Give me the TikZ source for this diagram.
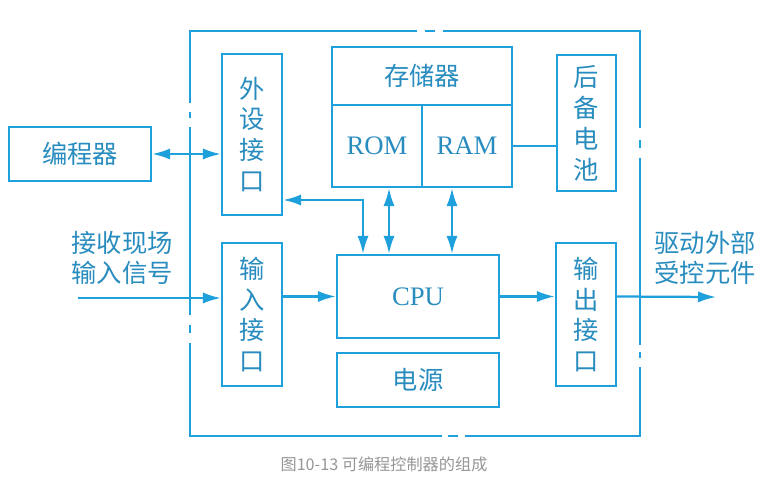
\documentclass[tikz,border=0pt]{standalone}
\usepackage{fontspec}
\setmainfont{Liberation Serif}
\newfontfamily\cjk{Noto Sans CJK SC}
\usepackage{tikz}
\usetikzlibrary{arrows.meta}

\definecolor{plcblue}{RGB}{30,160,220}
\definecolor{plctext}{RGB}{40,140,190}
\definecolor{capgray}{RGB}{150,150,150}

\begin{document}
\begin{tikzpicture}[x=0.025cm,y=-0.025cm,
    >={Latex[length=4.5mm,width=2.8mm]},
    wire/.style={draw=plcblue,line width=1.6pt}]

      \useasboundingbox (0,0) rectangle (768,479);

      % outer frame, with its breaks
      \draw[wire] (435,31) -- (425,31);
      \draw[wire] (417,31) -- (190,31) -- (190,103);
      \draw[wire] (190,112) -- (190,118);
      \draw[wire] (190,127) -- (190,315);
      \draw[wire] (190,325) -- (190,333);
      \draw[wire] (190,343) -- (190,436) -- (442,436);
      \draw[wire] (448,436) -- (458,436);
      \draw[wire] (465,436) -- (640,436) -- (640,367);
      \draw[wire] (640,358) -- (640,352);
      \draw[wire] (640,345) -- (640,158);
      \draw[wire] (640,148) -- (640,140);
      \draw[wire] (640,128) -- (640,31) -- (443,31);

      \begin{scope}[every node/.style={rectangle,draw=plcblue,line width=1.6pt,
          text=plctext,inner sep=0pt,align=center,
          font=\cjk\fontsize{18}{22}\selectfont}]
        \node[minimum width=1.5cm,minimum height=4.025cm] (wsjk) at (252,134.5) {外\\设\\接\\口};
        \node[minimum width=4.5cm,minimum height=1.45cm] (mem) at (422,76) {存储器};
        \node[minimum width=2.25cm,minimum height=2.05cm,
          font=\fontsize{19}{22}\selectfont] (rom) at (377,146) {ROM};
        \node[minimum width=2.25cm,minimum height=2.05cm,
          font=\fontsize{19}{22}\selectfont] (ram) at (467,146) {RAM};
        \node[minimum width=1.475cm,minimum height=3.4cm] (bat) at (586.5,123) {后\\备\\电\\池};
        \node[minimum width=3.55cm,minimum height=1.35cm] (prog) at (80,154) {编程器};
        \node[minimum width=1.5cm,minimum height=3.575cm] (srjk) at (252,314.5) {输\\入\\接\\口};
        \node[minimum width=4.05cm,minimum height=2.075cm,
          font=\fontsize{19}{22}\selectfont] (cpu) at (418,296.5) {CPU};
        \node[minimum width=4.05cm,minimum height=1.35cm] (power) at (418,380) {电源};
        \node[minimum width=1.5cm,minimum height=3.575cm] (scjk) at (586,314.5) {输\\出\\接\\口};
      \end{scope}

      \begin{scope}[every node/.style={text=plctext,align=center,
          font=\cjk\fontsize{18}{21.5}\selectfont}]
        \node (inlabel) at (122,258) {接收现场\\输入信号};
        \node (outlabel) at (705,258) {驱动外部\\受控元件};
      \end{scope}

      \node[text=capgray,font=\cjk\fontsize{11.5}{13}\selectfont] (caption) at (384,464)
        {图10-13 可编程控制器的组成};

      \coordinate (inL) at (78,298);
      \coordinate (outR) at (716,297);
      \coordinate (bend) at (363,200);

      \begin{scope}[wire]
        \draw [<->] (prog.east) -- (prog -| wsjk.west);
        \draw [->] (inL) -- (inL -| srjk.west);
        \draw [->] (cpu -| srjk.east) -- (cpu.west);
        \draw [->] (cpu.east) -- (cpu -| scjk.west);
        \draw [->] (cpu -| scjk.east) -- (outR);
        \draw (ram.east) -- (ram -| bat.west);
        \draw [<->] ([xshift=0.3cm]rom.south) -- ([xshift=0.3cm]rom.south |- cpu.north);
        \draw [<->] ([xshift=-0.375cm]ram.south) -- ([xshift=-0.375cm]ram.south |- cpu.north);
        \draw [<->] (bend -| wsjk.east) -| (cpu.north -| bend);
      \end{scope}

    \end{tikzpicture}
\end{document}
